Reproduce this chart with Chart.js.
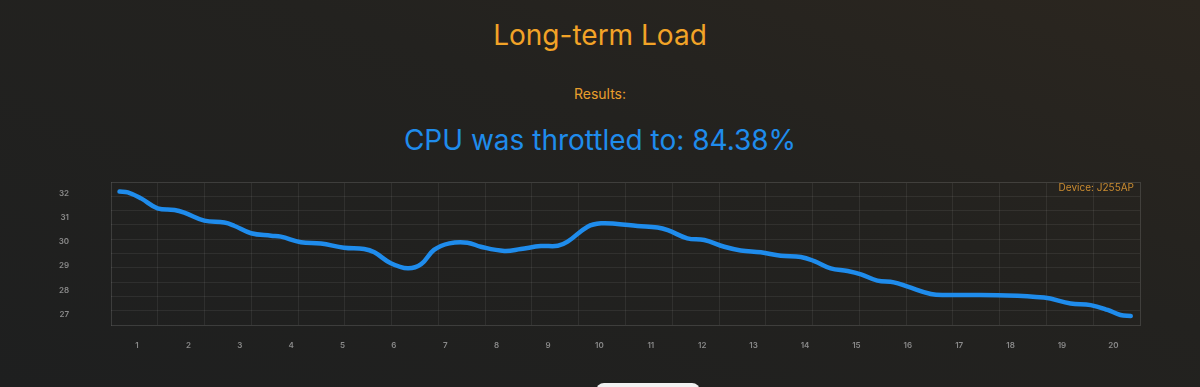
<!DOCTYPE html>
<html>
<head>
<meta charset="utf-8">
<title>Long-term Load</title>
<script src="https://cdn.jsdelivr.net/npm/chart.js@4"></script>
<style>
  html, body { margin: 0; padding: 0; }
  body {
    width: 1200px; height: 387px; overflow: hidden; position: relative;
    background: linear-gradient(200deg, #2b261f 0%, #23221f 40%, #1e1f1f 100%);
    font-family: Inter, "Noto Sans", sans-serif;
  }
  .head { position: absolute; left: 0; width: 1200px; text-align: center; white-space: nowrap; }
  #title { top: 18px; font-size: 28px; line-height: 34px; color: #f2a327; }
  #results { top: 85px; font-size: 14px; line-height: 17px; color: #e89e2c; }
  #throttle { top: 123px; font-size: 28px; line-height: 34px; color: #1f8cec; }
  #device { position: absolute; top: 181px; right: 66px; font-size: 10px; line-height: 13px; color: #c98b30; }
  #loadChart { position: absolute; left: 0; top: 0; }
  #button { position: absolute; left: 596px; top: 383px; width: 104px; height: 20px; border-radius: 8px; background: #f2f2f2; }
</style>
</head>
<body>
<div class="head" id="title">Long-term Load</div>
<div class="head" id="results">Results:</div>
<div class="head" id="throttle">CPU was throttled to: 84.38%</div>
<canvas id="loadChart" width="1200" height="387"></canvas>
<div id="device">Device: J255AP</div>
<div id="button"></div>
<script>
// curve: position along the run (test steps) and temperature
const steps = [0.66, 0.82, 1.08, 1.40, 1.73, 1.92, 2.31, 2.70, 2.89, 3.22, 3.61, 3.80,
  4.19, 4.58, 5.03, 5.42, 5.62, 5.94, 6.27, 6.53, 6.78, 7.08, 7.43, 7.69, 8.15, 8.47,
  8.86, 9.19, 9.38, 9.77, 10.03, 10.35, 10.74, 11.13, 11.33, 11.71, 12.04, 12.43, 12.75,
  13.14, 13.53, 13.92, 14.18, 14.50, 14.83, 15.09, 15.41, 15.73, 16.00, 16.45, 16.77,
  17.75, 18.65, 19.17, 19.56, 19.89, 20.14, 20.34];
const temps = [32.07, 32.04, 31.79, 31.38, 31.31, 31.20, 30.87, 30.79, 30.66, 30.35, 30.25, 30.21,
  29.98, 29.93, 29.75, 29.70, 29.56, 29.11, 28.90, 29.07, 29.66, 29.93, 29.96, 29.79, 29.62, 29.70,
  29.82, 29.83, 30.00, 30.62, 30.76, 30.73, 30.65, 30.59, 30.48, 30.14, 30.07, 29.79, 29.64,
  29.56, 29.42, 29.37, 29.20, 28.90, 28.79, 28.65, 28.39, 28.32, 28.14, 27.84, 27.80,
  27.79, 27.69, 27.45, 27.38, 27.18, 26.97, 26.93];

const xTicks = [1, 2, 3, 4, 5, 6, 7, 8, 9, 10, 11, 12, 13, 14, 15, 16, 17, 18, 19, 20];
const yTicks = [27, 28, 29, 30, 31, 32];

const gridColor = 'rgba(255,255,255,0.07)';
const tickFont = { family: 'Inter', size: 8, weight: '600' };

var ctx = document.getElementById('loadChart').getContext('2d');
var loadChart = new Chart(ctx, {
  type: 'line',
  data: {
    datasets: [{
      data: steps.map((s, i) => ({ x: s, y: temps[i] })),
      borderColor: '#1f8cec',
      borderWidth: 4.5,
      pointRadius: 0,
      tension: 0.4,
      borderCapStyle: 'round',
      borderJoinStyle: 'round',
      fill: false
    }]
  },
  options: {
    responsive: false,
    animation: false,
    layout: { padding: { left: 40, right: 60, top: 182, bottom: 0 } },
    plugins: { legend: { display: false }, tooltip: { enabled: false } },
    scales: {
      x: {
        type: 'linear', min: 0.494, max: 20.52,
        afterBuildTicks: s => { s.ticks = xTicks.map(v => ({ value: v })); },
        afterFit: s => { s.height = 62; },
        grid: { display: false, drawTicks: false },
        border: { display: true, color: gridColor },
        ticks: { color: '#8a8a8a', font: tickFont, padding: 16, maxRotation: 0, autoSkip: false }
      },
      y: {
        type: 'linear', min: 26.558, max: 32.467,
        afterBuildTicks: s => { s.ticks = yTicks.map(v => ({ value: v })); },
        afterFit: s => { s.width = 71; },
        grid: { display: false, drawTicks: false },
        border: { display: true, color: gridColor },
        ticks: { color: '#8a8a8a', font: tickFont, padding: 42 }
      },
      // background grid, not tied to the value ticks
      x2: {
        type: 'linear', position: 'top', min: 0, max: 22,
        afterBuildTicks: s => { s.ticks = Array.from({ length: 23 }, (_, i) => ({ value: i })); },
        afterFit: s => { s.height = 0; },
        grid: { color: gridColor, drawTicks: false },
        border: { display: true, color: gridColor },
        ticks: { display: false }
      },
      y2: {
        type: 'linear', position: 'right', min: 0, max: 10,
        afterBuildTicks: s => { s.ticks = Array.from({ length: 11 }, (_, i) => ({ value: i })); },
        afterFit: s => { s.width = 0; },
        grid: { color: gridColor, drawTicks: false },
        border: { display: true, color: gridColor },
        ticks: { display: false }
      }
    }
  }
});
</script>
</body>
</html>
